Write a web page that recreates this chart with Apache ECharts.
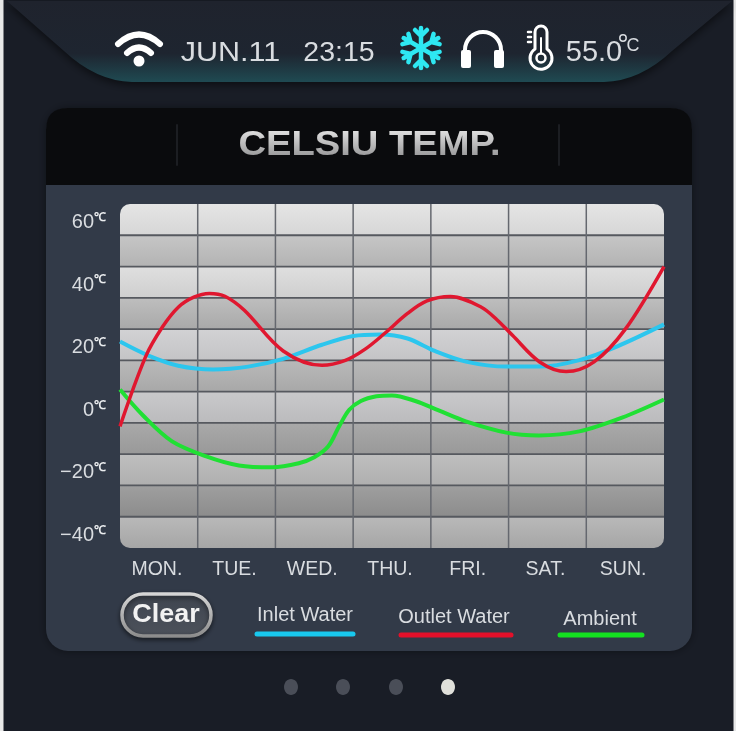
<!DOCTYPE html>
<html>
<head>
<meta charset="utf-8">
<style>html,body{margin:0;padding:0;background:#e8e8e8}#c{width:736px;height:731px}</style>
<script src="https://cdn.jsdelivr.net/npm/echarts@6/dist/echarts.min.js"></script>
</head>
<body>
<div id="c"></div>
<script>
const categories = ['MON.','TUE.','WED.','THU.','FRI.','SAT.','SUN.'];
const yTickLabels = [60,40,20,0,-20,-40];
const bandEdges = [-45,-35,-25,-15,-5,5,15,25,35,45,55,65];
const dayLines = [1,2,3,4,5,6];

const inletDays  = [0,0.35,0.75,1.2,1.65,2.1,2.6,3.0,3.35,3.7,4.05,4.45,4.97,5.4,5.9,6.4,7];
const inletTemps = [21.0,16.7,13.3,12.1,13.0,15.5,20.0,22.8,23.3,22.0,18.0,14.6,13.0,13.0,15.0,19.5,26.5];
const outletDays  = [0,0.33,0.55,0.75,0.95,1.15,1.35,1.6,2.1,2.6,2.9,3.15,3.4,3.7,3.95,4.25,4.65,4.85,5.05,5.4,5.74,6.1,6.5,7];
const outletTemps = [-6.1,16.2,25.8,32.0,35.2,36.4,35.5,31.0,18.0,13.4,15.0,18.5,23.5,30.0,34.0,35.4,32.0,28.0,23.0,14.5,11.4,14.5,24.9,45.0];
const ambientDays  = [0,0.3,0.67,1.11,1.53,1.96,2.3,2.5,2.68,2.82,2.95,3.1,3.3,3.5,3.8,4.1,4.45,4.97,5.39,5.91,6.46,7];
const ambientTemps = [5.7,-2.7,-10.9,-15.7,-18.6,-19.2,-17.9,-16.0,-12.5,-6.1,-0.8,2.0,3.5,3.8,2.0,-1.0,-4.5,-8.1,-9.0,-7.7,-3.3,2.5];

const bandShades = [['#e5e5e5','#d6d6d6'],['#c6c6c6','#b3b3b3'],['#dfdfdf','#cfcfcf'],['#bebebe','#a9a9a9'],['#d2d2d4','#c4c4c6'],['#b9b9b9','#a8a8a8'],['#c9c9cb','#bbbbbd'],['#a9a9a9','#999999'],['#bfbfbf','#afafaf'],['#9f9f9f','#8c8c8c'],['#b9b9b9','#a6a6a6']];

const FONT = '"Liberation Sans", Arial, sans-serif';
const LG = echarts.graphic.LinearGradient;
const pairs = (xs, ys) => xs.map((x, i) => [x, ys[i]]);
const vgrad = (a, b) => new LG(0, 0, 0, 1, [{offset:0,color:a},{offset:1,color:b}]);
let shapeCount = 0;
const pathEl = (d, style, z, extra) => {
  const name = 'chromePath' + (shapeCount++);
  echarts.graphic.registerShape(name, echarts.graphic.extendPath(d));
  return Object.assign({type:name, z, silent:true, style}, extra||{});
};
const txt = (x, y, text, fontSize, fill, extra, el) => Object.assign({type:'text', x, y, z:3, silent:true,
  style:Object.assign({text, fontSize, fontFamily:FONT, fill, align:'center', verticalAlign:'middle'}, extra||{})}, el||{});
const stroke = (d, color, w) => pathEl(d, {fill:'none', stroke:color, lineWidth:w, lineCap:'round', lineJoin:'round'}, 3);

const TEXT = '#d9dce0';
const graphics = [
  {type:'rect', z:-5, silent:true, shape:{x:3.5,y:0,width:730,height:731}, style:{fill:'#191d26'}},
  pathEl('M7 1 L64 51 Q96 81 132 82 L604 82 Q640 81 672 51 L732 1 Z',
   {fill:new LG(0,0,0,1,[{offset:0,color:'#1f232d'},{offset:0.65,color:'#1e2530'},{offset:1,color:'#1f4a52'}]),
     shadowColor:'rgba(0,0,0,0.55)', shadowBlur:8, shadowOffsetY:3}, -4),
  {type:'rect', z:-4, silent:true, shape:{x:46,y:108,width:646,height:543,r:22}, style:{fill:'#323a48', shadowColor:'rgba(0,0,0,0.4)', shadowBlur:8}},
  pathEl('M46 185 L46 130 Q46 108 68 108 L670 108 Q692 108 692 130 L692 185 Z', {fill:'#0a0b0d'}, -3),
  stroke('M177 125 L177 165','#1c1e22',2),
  stroke('M559 125 L559 165','#1c1e22',2),
  txt(369.5,145,'CELSIU TEMP.',35,'#e6e6e6',{fontWeight:'bold'},{scaleX:1.09}),
  // fades the title towards the header colour
  {type:'rect', z:4, silent:true, shape:{x:230,y:128,width:280,height:34},
   style:{fill:new LG(0,0,0,1,[{offset:0,color:'rgba(10,11,13,0)'},{offset:1,color:'rgba(10,11,13,0.42)'}])}},

  // status bar
  stroke('M118 44 Q139 25 160 44','#ffffff',6),
  stroke('M127 53 Q139 42 151 53','#ffffff',6),
  {type:'circle', z:3, silent:true, shape:{cx:139,cy:61,r:5.5}, style:{fill:'#ffffff'}},
  txt(230.5,53,'JUN.11',28,TEXT,null,{scaleX:1.09}),
  txt(339,53,'23:15',28.5,TEXT),
  txt(594,53,'55.0',29,TEXT),
  txt(633,46,'C',18,TEXT),
  {type:'circle', z:3, silent:true, shape:{cx:623,cy:38,r:3.2}, style:{fill:'none',stroke:TEXT,lineWidth:1.5}},
  // headphones
  stroke('M465 52 L465 50 A18 18 0 0 1 501 50 L501 52','#ffffff',4),
  {type:'rect', z:3, silent:true, shape:{x:461,y:50,width:10,height:18,r:2}, style:{fill:'#ffffff'}},
  {type:'rect', z:3, silent:true, shape:{x:494,y:50,width:10,height:18,r:2}, style:{fill:'#ffffff'}},
  // thermometer
  stroke('M535 49 L535 32 A6 6 0 0 1 547 32 L547 49 A11 11 0 1 1 535 49 Z','#ffffff',3),
  stroke('M541 38 L541 53','#ffffff',2),
  {type:'circle', z:3, silent:true, shape:{cx:541,cy:58,r:4.5}, style:{fill:'none',stroke:'#ffffff',lineWidth:2.5}},
  stroke('M528 32 L531 32 M528 37 L531 37 M528 42 L531 42','#ffffff',2.5),

  // Clear button
  {type:'rect', z:3, silent:true, shape:{x:122,y:594,width:89,height:42,r:21},
   style:{fill:vgrad('#3e444f','#4d525b'), stroke:vgrad('#d8d8d8','#8a8a8a'), lineWidth:3.5, shadowColor:'rgba(0,0,0,0.5)', shadowBlur:5, shadowOffsetY:2}},
  txt(166,615,'Clear',25,'#f2f2f2',{fontWeight:'bold'},{scaleX:1.08}),

  // legend
  txt(305,615,'Inlet Water',20,TEXT),
  stroke('M257 634 L353 634','#18c8ee',5),
  txt(454,617,'Outlet Water',20,TEXT),
  stroke('M401 635 L511 635','#e4102a',5),
  txt(600,619,'Ambient',20,TEXT),
  stroke('M560 635 L642 635','#14e020',5),

  // page dots
  ...[[291,'#4a4e58'],[343,'#4a4e58'],[396,'#4a4e58'],[448,'#e0e0da']].map(([cx,fill]) =>
    ({type:'ellipse', z:3, silent:true, shape:{cx,cy:687,rx:7,ry:8}, style:{fill}})),
];
// snowflake
const snowArm = 'M0 0 L0 -20 M-6 -18 L0 -12 L6 -18';
for (let i = 0; i < 6; i++) {
  graphics.push(pathEl(snowArm, {fill:'none', stroke:'#2ee8f2', lineWidth:4.5, lineCap:'round', lineJoin:'round'}, 3,
    {x:421, y:48, rotation:i*Math.PI/3}));
}

const bandData = bandEdges.slice(0,-1).map((low,i) => [low, bandEdges[i+1]]).reverse();

const option = {
  animation:false,
  backgroundColor:'transparent',
  graphic:graphics,
  grid:{left:120, right:72, top:204, bottom:183, containLabel:false},
  xAxis:[
    {type:'value', min:0, max:7, interval:1, show:false},
    {type:'category', data:categories, boundaryGap:true, position:'bottom',
     axisLine:{show:false}, axisTick:{show:false}, splitLine:{show:false},
     axisLabel:{color:TEXT, fontSize:19.5, fontFamily:FONT, margin:12, padding:[0,4,0,0]}}
  ],
  yAxis:[{type:'value', min:-45, max:65, interval:5,
    axisLine:{show:false}, axisTick:{show:false}, splitLine:{show:false},
    axisLabel:{margin:14, showMinLabel:false, showMaxLabel:false, hideOverlap:false,
      formatter:v => yTickLabels.includes(v) ? `{n|${String(v).replace('-','\u2212')}}{c|℃}` : '',
      rich:{n:{color:TEXT,fontSize:20,fontFamily:FONT,padding:[6,0,0,0]},
            c:{color:'#eceef0',fontSize:12,fontWeight:'bold',fontFamily:FONT,verticalAlign:'top',padding:[5,0,0,0]}}}}],
  series:[
    {type:'custom', name:'bands', z:1, xAxisIndex:0, silent:true, clip:false, data:bandData,
     encode:{x:[],y:[0,1]},
     renderItem:(params, api) => {
       const i = params.dataIndex, a = api.coord([0, api.value(1)]), b = api.coord([7, api.value(0)]);
       const rad = 10, r = i===0 ? [rad,rad,0,0] : i===bandData.length-1 ? [0,0,rad,rad] : 0;
       return {type:'rect', shape:{x:a[0],y:a[1],width:b[0]-a[0],height:b[1]-a[1],r},
         style:{fill:vgrad(bandShades[i][0],bandShades[i][1])}};
     }},
    {type:'custom', name:'rows', z:2, xAxisIndex:0, silent:true, clip:false, data:bandEdges.slice(1,-1),
     encode:{x:[],y:0},
     renderItem:(params, api) => {
       const a = api.coord([0, api.value(0)]), b = api.coord([7, api.value(0)]);
       return {type:'line', shape:{x1:a[0],y1:a[1],x2:b[0],y2:b[1]}, style:{stroke:'#56595f',lineWidth:1.8}};
     }},
    {type:'custom', name:'cols', z:2, xAxisIndex:0, silent:true, clip:false, data:dayLines,
     encode:{x:0,y:[]},
     renderItem:(params, api) => {
       const a = api.coord([api.value(0), 65]), b = api.coord([api.value(0), -45]);
       return {type:'line', shape:{x1:a[0],y1:a[1],x2:b[0],y2:b[1]}, style:{stroke:'#65686f',lineWidth:1.5}};
     }},
    {type:'line', name:'Inlet Water', z:4, xAxisIndex:0, smooth:0.33, showSymbol:false, data:pairs(inletDays,inletTemps), lineStyle:{color:'#2cc6ee',width:4}},
    {type:'line', name:'Outlet Water', z:5, xAxisIndex:0, smooth:0.33, showSymbol:false, data:pairs(outletDays,outletTemps), lineStyle:{color:'#e0172f',width:3.5}},
    {type:'line', name:'Ambient', z:4, xAxisIndex:0, smooth:0.33, showSymbol:false, data:pairs(ambientDays,ambientTemps), lineStyle:{color:'#20e034',width:4}}
  ]
};
const chart = echarts.init(document.getElementById('c'), null, {renderer:'canvas', width:736, height:731});
chart.setOption(option);
</script>
</body>
</html>
